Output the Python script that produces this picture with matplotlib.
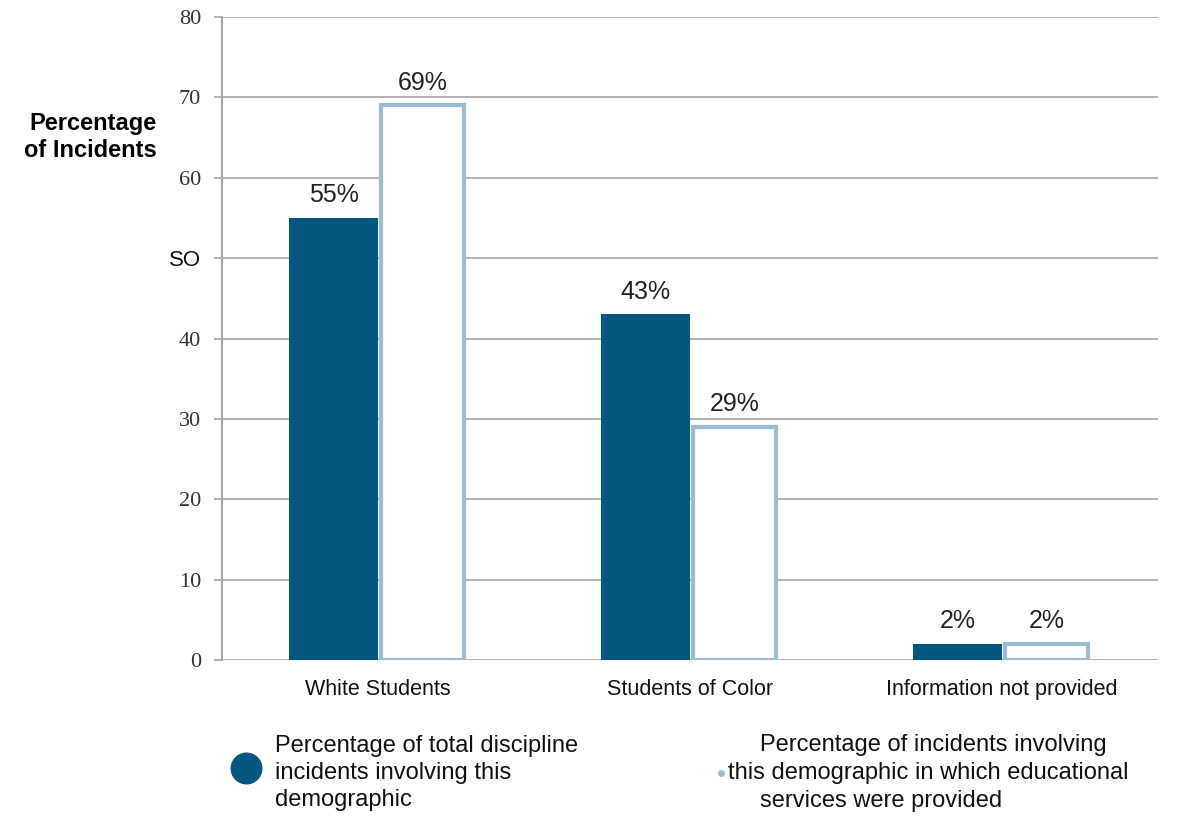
import matplotlib
matplotlib.use("Agg")
import matplotlib.pyplot as plt
from matplotlib.lines import Line2D
import numpy as np

categories = ["White Students", "Students of Color", "Information not provided"]
discipline_pct = [55, 43, 2]
services_pct = [69, 29, 2]
ytick_vals = [0, 10, 20, 30, 40, 50, 60, 70, 80]
ytick_labels = ["0", "10", "20", "30", "40", "SO", "60", "70", "80"]
legend_dark = "Percentage of total discipline\nincidents involving this\ndemographic"
legend_light = ["Percentage of incidents involving",
                "this demographic in which educational",
                "services were provided"]

DARK = "#04587f"
LIGHT = "#9bbcd2"
GRID = "#a6a6a6"

W, H = 1184, 818
fig = plt.figure(figsize=(W / 100, H / 100), dpi=100)
ax = fig.add_axes([222 / W, 1 - 660 / H, (1158 - 222) / W, (660 - 17) / H])

x = np.arange(len(categories))
bw = 0.285
ax.bar(x - bw / 2, discipline_pct, width=bw, color=DARK, zorder=3)
ax.bar(x + bw / 2, services_pct, width=bw * 0.93, facecolor="white",
       edgecolor=LIGHT, linewidth=3, zorder=3)

for xi, v in zip(x - bw / 2, discipline_pct):
    ax.text(xi, v + 1.3, f"{v}%", ha="center", va="bottom", fontsize=18,
            family="Liberation Sans", color="#222222", zorder=5)
for xi, v in zip(x + bw / 2, services_pct):
    ax.text(xi, v + 1.3, f"{v}%", ha="center", va="bottom", fontsize=18,
            family="Liberation Sans", color="#222222", zorder=5)

ax.set_xlim(-0.5, 2.5)
ax.set_ylim(0, 80)
ax.set_yticks(ytick_vals)
ax.set_yticklabels(ytick_labels)
for lab, t in zip(ax.get_yticklabels(), ytick_labels):
    if t == "SO":
        lab.set_family("Liberation Sans")
        lab.set_color("#111111")
    else:
        lab.set_family("Liberation Serif")
        lab.set_color("#333333")
    lab.set_fontsize(16)
ax.tick_params(axis="y", length=6, color=GRID, width=1.2, pad=9)
ax.set_xticks(x)
ax.set_xticklabels(categories, fontsize=15.5, family="Liberation Sans", color="#111111")
ax.tick_params(axis="x", length=0, pad=14)

ax.yaxis.grid(True, color=GRID, linewidth=1.2, zorder=0)
ax.set_axisbelow(True)
for s in ["top", "right", "bottom"]:
    ax.spines[s].set_visible(False)
ax.spines["left"].set_color(GRID)
ax.spines["left"].set_linewidth(1.5)

fig.text(157 / W, 1 - 137 / H, "Percentage\nof Incidents", ha="right", va="center",
         fontsize=17, fontweight="bold", family="Liberation Sans", linespacing=1.25)

# legend
fig.add_artist(Line2D([246 / W], [1 - 768 / H], marker="o", markersize=22,
                      color=DARK, linestyle="none", transform=fig.transFigure))
fig.text(275 / W, 1 - 773 / H, legend_dark, ha="left", va="center", fontsize=17,
         family="Liberation Sans", color="#111111", linespacing=1.27)
fig.add_artist(Line2D([721 / W], [1 - 773 / H], marker="o", markersize=4,
                      color=LIGHT, linestyle="none", transform=fig.transFigure))
fig.text(760 / W, 1 - 745 / H, legend_light[0], ha="left", va="center", fontsize=17,
         family="Liberation Sans", color="#111111")
fig.text(728 / W, 1 - 773 / H, legend_light[1], ha="left", va="center", fontsize=17,
         family="Liberation Sans", color="#111111")
fig.text(760 / W, 1 - 801 / H, legend_light[2], ha="left", va="center", fontsize=17,
         family="Liberation Sans", color="#111111")

fig.savefig("out.png", dpi=100)
